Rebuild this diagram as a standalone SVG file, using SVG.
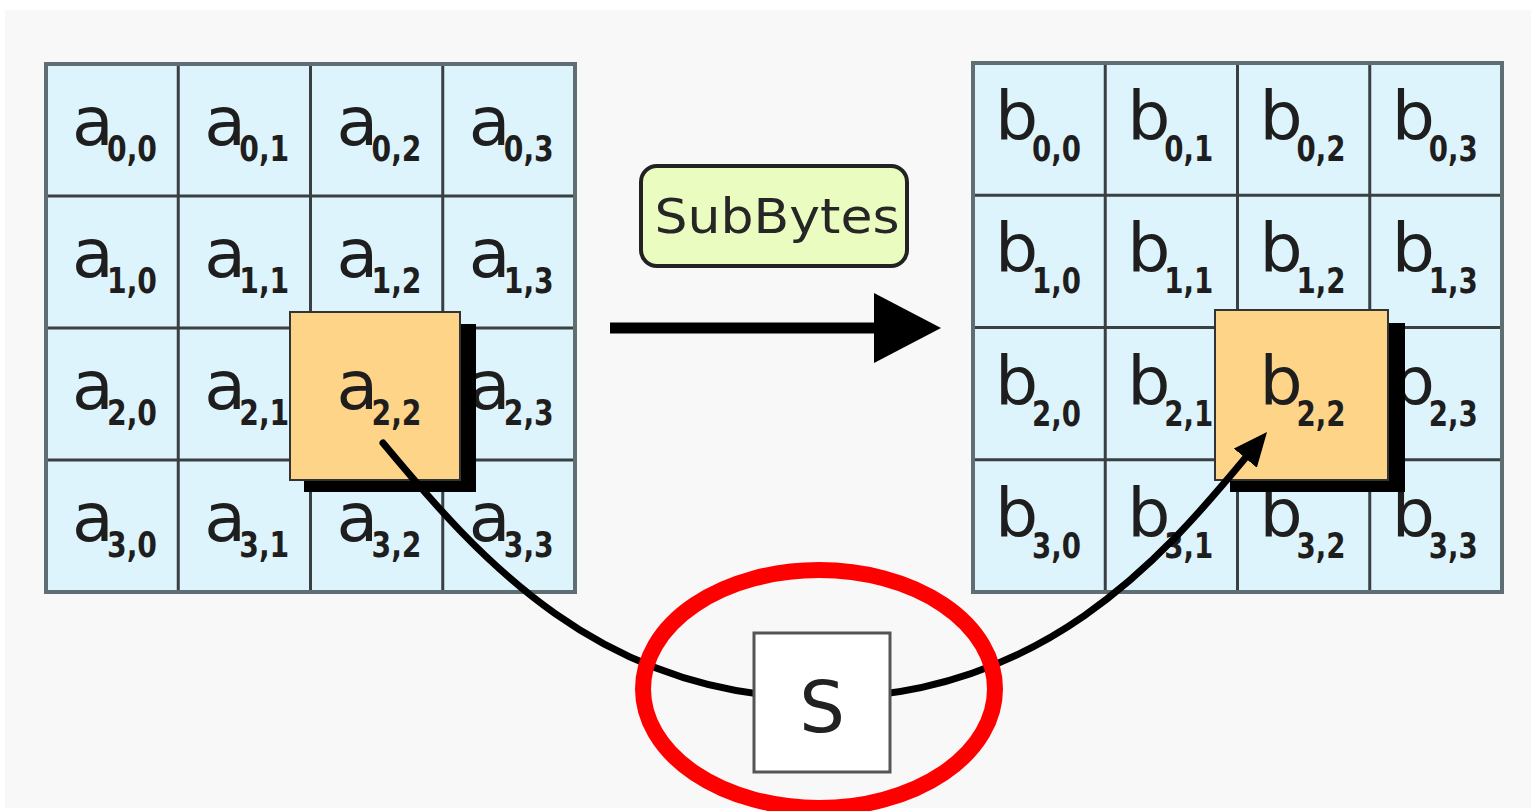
<svg xmlns="http://www.w3.org/2000/svg" width="1531" height="811" viewBox="0 0 1531 811">
<style>
.cell{fill:#def4fc}
.gl{stroke:#3a3f42;stroke-width:3;fill:none}
.border{fill:none;stroke:#5f6e73;stroke-width:4}
.main{font-family:"DejaVu Sans","Liberation Sans",sans-serif;font-size:68px;fill:#1e1e1e}
.sub{font-family:"DejaVu Sans","Liberation Sans",sans-serif;font-weight:bold;font-size:36px;fill:#1e1e1e}
.hl{fill:#fed488;stroke:#333;stroke-width:2}
.shadow{fill:#000}
.conn{fill:none;stroke:#000}
</style>
<defs>
<marker id="headSmall" viewBox="0 0 34 30" markerWidth="34" markerHeight="30" refX="0" refY="15" orient="auto" markerUnits="userSpaceOnUse"><path d="M0,0 L34,15 L0,30 Z" fill="#000"/></marker>
<marker id="headBig" viewBox="0 0 67 70" markerWidth="67" markerHeight="70" refX="0" refY="35" orient="auto" markerUnits="userSpaceOnUse"><path d="M0,0 L67,35 L0,70 Z" fill="#000"/></marker>
</defs>
<rect x="5" y="10" width="1526" height="798" fill="#f8f8f8"/>

<g id="stateA">
<rect class="cell" x="46" y="64" width="529" height="528"/>
<path class="gl" d="M178.25,64V592M310.5,64V592M442.75,64V592M46,196H575M46,328H575M46,460H575"/>
<rect class="border" x="46" y="64" width="529" height="528"/>
<g>
<text class="main" x="72" y="145">a</text><text class="sub" x="107" y="161" textLength="50" lengthAdjust="spacingAndGlyphs">0,0</text>
<text class="main" x="204.25" y="145">a</text><text class="sub" x="239.25" y="161" textLength="50" lengthAdjust="spacingAndGlyphs">0,1</text>
<text class="main" x="336.5" y="145">a</text><text class="sub" x="371.5" y="161" textLength="50" lengthAdjust="spacingAndGlyphs">0,2</text>
<text class="main" x="468.75" y="145">a</text><text class="sub" x="503.75" y="161" textLength="50" lengthAdjust="spacingAndGlyphs">0,3</text>
<text class="main" x="72" y="277">a</text><text class="sub" x="107" y="293" textLength="50" lengthAdjust="spacingAndGlyphs">1,0</text>
<text class="main" x="204.25" y="277">a</text><text class="sub" x="239.25" y="293" textLength="50" lengthAdjust="spacingAndGlyphs">1,1</text>
<text class="main" x="336.5" y="277">a</text><text class="sub" x="371.5" y="293" textLength="50" lengthAdjust="spacingAndGlyphs">1,2</text>
<text class="main" x="468.75" y="277">a</text><text class="sub" x="503.75" y="293" textLength="50" lengthAdjust="spacingAndGlyphs">1,3</text>
<text class="main" x="72" y="409">a</text><text class="sub" x="107" y="425" textLength="50" lengthAdjust="spacingAndGlyphs">2,0</text>
<text class="main" x="204.25" y="409">a</text><text class="sub" x="239.25" y="425" textLength="50" lengthAdjust="spacingAndGlyphs">2,1</text>
<text class="main" x="468.75" y="409">a</text><text class="sub" x="503.75" y="425" textLength="50" lengthAdjust="spacingAndGlyphs">2,3</text>
<text class="main" x="72" y="541">a</text><text class="sub" x="107" y="557" textLength="50" lengthAdjust="spacingAndGlyphs">3,0</text>
<text class="main" x="204.25" y="541">a</text><text class="sub" x="239.25" y="557" textLength="50" lengthAdjust="spacingAndGlyphs">3,1</text>
<text class="main" x="336.5" y="541">a</text><text class="sub" x="371.5" y="557" textLength="50" lengthAdjust="spacingAndGlyphs">3,2</text>
<text class="main" x="468.75" y="541">a</text><text class="sub" x="503.75" y="557" textLength="50" lengthAdjust="spacingAndGlyphs">3,3</text>
</g>
</g>
<g id="a22">
<rect class="shadow" x="304" y="324" width="172" height="168"/>
<rect class="hl" x="290" y="312" width="170" height="168"/>
<text class="main" x="336.5" y="409">a</text><text class="sub" x="371.5" y="425" textLength="50" lengthAdjust="spacingAndGlyphs">2,2</text>
</g>

<g id="stateB">
<rect class="cell" x="973" y="63" width="529" height="529"/>
<path class="gl" d="M1105.25,63V592M1237.5,63V592M1369.75,63V592M973,195.25H1502M973,327.5H1502M973,459.75H1502"/>
<rect class="border" x="973" y="63" width="529" height="529"/>
<g>
<text class="main" x="995" y="140">b</text><text class="sub" x="1032" y="161" textLength="49" lengthAdjust="spacingAndGlyphs">0,0</text>
<text class="main" x="1127.25" y="140">b</text><text class="sub" x="1164.25" y="161" textLength="49" lengthAdjust="spacingAndGlyphs">0,1</text>
<text class="main" x="1259.5" y="140">b</text><text class="sub" x="1296.5" y="161" textLength="49" lengthAdjust="spacingAndGlyphs">0,2</text>
<text class="main" x="1391.75" y="140">b</text><text class="sub" x="1428.75" y="161" textLength="49" lengthAdjust="spacingAndGlyphs">0,3</text>
<text class="main" x="995" y="272.25">b</text><text class="sub" x="1032" y="293.25" textLength="49" lengthAdjust="spacingAndGlyphs">1,0</text>
<text class="main" x="1127.25" y="272.25">b</text><text class="sub" x="1164.25" y="293.25" textLength="49" lengthAdjust="spacingAndGlyphs">1,1</text>
<text class="main" x="1259.5" y="272.25">b</text><text class="sub" x="1296.5" y="293.25" textLength="49" lengthAdjust="spacingAndGlyphs">1,2</text>
<text class="main" x="1391.75" y="272.25">b</text><text class="sub" x="1428.75" y="293.25" textLength="49" lengthAdjust="spacingAndGlyphs">1,3</text>
<text class="main" x="995" y="404.5">b</text><text class="sub" x="1032" y="425.5" textLength="49" lengthAdjust="spacingAndGlyphs">2,0</text>
<text class="main" x="1127.25" y="404.5">b</text><text class="sub" x="1164.25" y="425.5" textLength="49" lengthAdjust="spacingAndGlyphs">2,1</text>
<text class="main" x="1391.75" y="404.5">b</text><text class="sub" x="1428.75" y="425.5" textLength="49" lengthAdjust="spacingAndGlyphs">2,3</text>
<text class="main" x="995" y="536.75">b</text><text class="sub" x="1032" y="557.75" textLength="49" lengthAdjust="spacingAndGlyphs">3,0</text>
<text class="main" x="1127.25" y="536.75">b</text><text class="sub" x="1164.25" y="557.75" textLength="49" lengthAdjust="spacingAndGlyphs">3,1</text>
<text class="main" x="1259.5" y="536.75">b</text><text class="sub" x="1296.5" y="557.75" textLength="49" lengthAdjust="spacingAndGlyphs">3,2</text>
<text class="main" x="1391.75" y="536.75">b</text><text class="sub" x="1428.75" y="557.75" textLength="49" lengthAdjust="spacingAndGlyphs">3,3</text>
</g>
</g>
<g id="b22">
<rect class="shadow" x="1230" y="323" width="175" height="169"/>
<rect class="hl" x="1215" y="310" width="173" height="170"/>
<text class="main" x="1259.5" y="404.5">b</text><text class="sub" x="1296.5" y="425.5" textLength="49" lengthAdjust="spacingAndGlyphs">2,2</text>
</g>

<g id="connectors">
<path class="conn" d="M610,328H874" stroke-width="11" marker-end="url(#headBig)"/>
<path class="conn" d="M383,443 C479,558.5 601,698 821,698 C1041,698 1162.2,558.1 1245.3,458.1" stroke-width="7" stroke-linecap="round" marker-end="url(#headSmall)"/>
</g>

<g id="subbytes">
<rect x="641" y="166" width="266" height="100" rx="16" fill="#ebfcc0" stroke="#222" stroke-width="4"/>
<text x="777" y="233" text-anchor="middle" font-family="DejaVu Sans, Liberation Sans, sans-serif" font-size="48" fill="#262626" textLength="245" lengthAdjust="spacingAndGlyphs">SubBytes</text>
</g>

<g id="sbox">
<rect x="754" y="633" width="136" height="139" fill="#fff" stroke="#555" stroke-width="3"/>
<text x="822" y="732" text-anchor="middle" font-family="DejaVu Sans, Liberation Sans, sans-serif" font-size="72" fill="#222">S</text>
</g>

<ellipse id="highlight" cx="819" cy="689" rx="176" ry="119" fill="none" stroke="#ff0000" stroke-width="16"/>
</svg>
